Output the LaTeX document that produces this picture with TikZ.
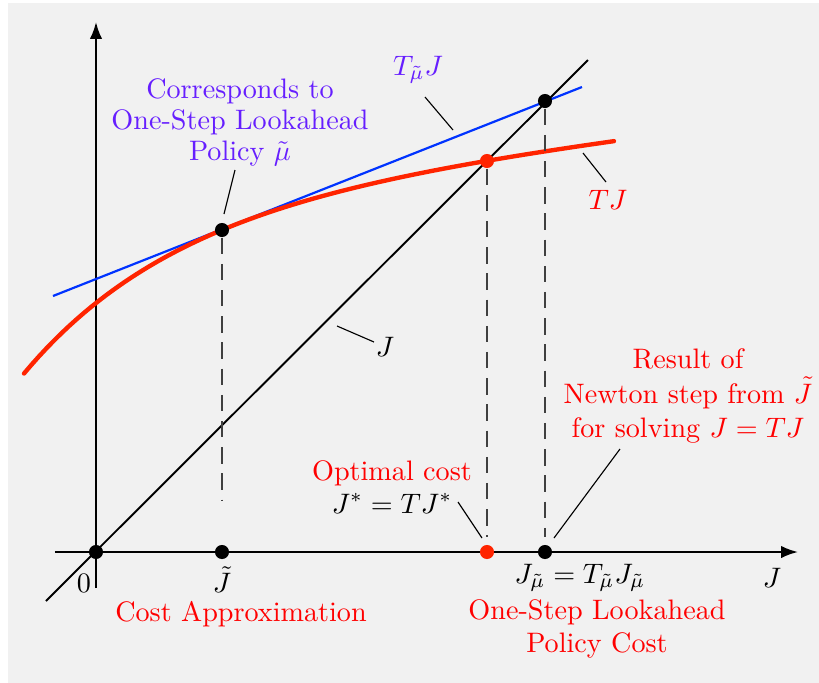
\documentclass[tikz,border=0pt]{standalone}
\usetikzlibrary{arrows.meta}
\definecolor{bgc}{RGB}{241,241,241}
\definecolor{vio}{RGB}{102,30,255}
\definecolor{curvered}{RGB}{255,36,0}
\definecolor{lineblue}{RGB}{0,51,255}
\definecolor{txtred}{RGB}{255,0,0}
\begin{document}
\begin{tikzpicture}[x=0.355pt,y=-0.355pt,
 dot/.style={circle,fill=black,inner sep=0pt,minimum size=5pt},
 reddot/.style={dot,fill=curvered},
 axis/.style={line width=0.72pt,-{Latex[length=6pt,width=4.4pt]}},
 leader/.style={line width=0.4pt},
 guide/.style={line width=0.45pt, dash pattern=on 5.8pt off 3.5pt, black!75},
 lbl/.style={inner sep=0pt, align=center},
]
\useasboundingbox (0,0) rectangle (819,683);
\fill[bgc] (8,3) rectangle (819,683);

% axes
\coordinate (xs) at (55,552);
\coordinate (xe) at (798,552);
\coordinate (ys) at (96,588);
\coordinate (ye) at (96,22);
\draw[axis] (xs) -- (xe);
\draw[axis] (ys) -- (ye);

% J = J line
\coordinate (ls) at (46,601);
\coordinate (le) at (588,60);
\draw[line width=0.68pt] (ls) -- (le);

% T_mu J line
\coordinate (bs) at (53,296);
\coordinate (be) at (582,87);
\draw[lineblue, line width=0.78pt] (bs) -- (be);

% TJ curve
\draw[curvered, line width=1.55pt, line cap=round] plot[domain=-72:518, samples=80]
 ({96+\x},{552-(352.8+0.119*\x-103.8*exp(-0.0065*\x))});

% points
\node[dot] (o) at (96,552) {};
\node[dot] (jt) at (222,552) {};
\node[reddot] (js) at (487,552) {};
\node[dot] (jm) at (545,552) {};
\node[dot] (pt) at (222,230) {};
\node[reddot] (pf) at (487,161) {};
\node[dot] (pm) at (545,101) {};

% guides
\coordinate (g1) at (222,500);
\coordinate (g2) at (487,537);
\coordinate (g3) at (545,537);
\draw[guide] (pt) -- (g1);
\draw[guide] (pf) -- (g2);
\draw[guide] (pm) -- (g3);

% labels
\node[lbl, text=vio, font=\fontsize{10}{11}\selectfont] (corr) at (240,122)
 {Corresponds to\\One-Step Lookahead\\Policy $\tilde\mu$};
\coordinate (c1) at (235,170);
\coordinate (c2) at (224,214);
\draw[leader] (c1) -- (c2);

\node[lbl, text=vio] (tmu) at (418,70) {$T_{\tilde\mu}J$};
\coordinate (t1) at (425,97);
\coordinate (t2) at (453,130);
\draw[leader] (t1) -- (t2);

\node[lbl, text=txtred] (tj) at (608,200) {$TJ$};
\coordinate (r1) at (583,153);
\coordinate (r2) at (606,182);
\draw[leader] (r1) -- (r2);

\node[lbl] (jl) at (385,347) {$J$};
\coordinate (j1) at (337,326);
\coordinate (j2) at (374,342);
\draw[leader] (j1) -- (j2);

\node[lbl] (zero) at (84,583) {$0$};
\node[lbl] (jtl) at (222,580) {$\tilde J$};
\node[lbl] (jax) at (772,578) {$J$};
\node[lbl] (jml) at (580,578) {$J_{\tilde\mu}=T_{\tilde\mu}J_{\tilde\mu}$};

\node[lbl, text=txtred] (ca) at (241,614) {Cost Approximation};
\node[lbl, text=txtred, font=\fontsize{10}{11.5}\selectfont] (olpc) at (597,629)
 {One-Step Lookahead\\Policy Cost};

\node[lbl, font=\fontsize{10}{11.5}\selectfont] (opt) at (392,487)
 {\textcolor{txtred}{Optimal cost}\\$J^*=TJ^*$};
\coordinate (o1) at (458,502);
\coordinate (o2) at (482,538);
\draw[leader] (o1) -- (o2);

\node[lbl, text=txtred, font=\fontsize{10}{12.2}\selectfont] (newton) at (688,396)
 {Result of\\Newton step from $\tilde J$\\for solving $J=TJ$};
\coordinate (n1) at (620,449);
\coordinate (n2) at (554,538);
\draw[leader] (n1) -- (n2);
\end{tikzpicture}
\end{document}
